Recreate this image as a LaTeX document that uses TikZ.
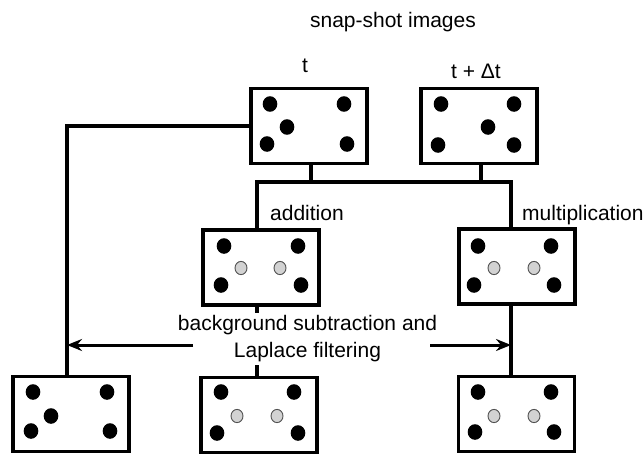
\documentclass[tikz,border=0pt]{standalone}
\usepackage{fontspec}
\setmainfont{Liberation Sans}
\usetikzlibrary{arrows.meta}
\definecolor{dotgray}{HTML}{D2D2D2}
\definecolor{rimgray}{HTML}{505050}
\tikzset{
  frame/.style={draw=black,line width=3.2pt,fill=white,minimum width=116pt,minimum height=75pt,inner sep=0pt},
  conn/.style={line width=3.2pt,line cap=rect},
  arr/.style={line width=3pt,-{Stealth[length=15pt,width=12pt,inset=5pt]}},
  lbl/.style={font=\fontsize{21}{27}\selectfont,inner sep=0pt},
  bdot/.style={fill=black},
  gdot/.style={fill=dotgray,draw=rimgray,line width=0.9pt}
}
\newcommand{\bd}[2]{\fill[bdot] (#1,#2) ellipse [x radius=7.3pt,y radius=7.8pt];}
\newcommand{\gd}[2]{\filldraw[gdot] (#1,#2) ellipse [x radius=6pt,y radius=6.6pt];}
\begin{document}
\begin{tikzpicture}[x=1pt,y=-1pt]
\useasboundingbox (0,0) rectangle (643,453);
% boxes
\node[frame] (T)  at (309,126) {};
\node[frame] (TD) at (479,126) {};
\node[frame] (A)  at (261,267.5) {};
\node[frame] (M)  at (517,266.5) {};
\node[frame] (BL) at (71,414) {};
\node[frame] (BM) at (259,415) {};
\node[frame] (BR) at (516.5,414) {};
% texts
\node[lbl,anchor=base] (snap) at (393,27) {snap-shot images};
\node[lbl,anchor=base] (tt) at (305,72) {t};
\node[lbl,anchor=base] (ttd) at (476,78) {t + Δt};
\node[lbl,anchor=base west] (add) at (270,220) {addition};
\node[lbl,anchor=base west] (mul) at (522,220) {multiplication};
\node[lbl,align=center,inner sep=4pt] (proc) at (307.5,339) {background subtraction and\\Laplace filtering};
% junction coordinates
\coordinate (tl) at (311,182);
\coordinate (tr) at (481,182);
\coordinate (j1) at (257,182);
\coordinate (j2) at (511,182);
\coordinate (jl) at (67,345);
\coordinate (al) at (193,345);
\coordinate (ar) at (430,345);
% connectors
\draw[conn] (tl |- T.south) -- (tl);
\draw[conn] (tr |- TD.south) -- (tr);
\draw[conn] (A.north -| j1) |- (j2) -- (M.north -| j2);
\draw[conn] (M.south -| j2) -- (BR.north -| j2);
\draw[conn] (A.south -| j1) -- (proc.north -| j1);
\draw[conn] (proc.south -| j1) -- (BM.north -| j1);
\draw[conn] (T.west) -| (BL.north -| jl);
\draw[arr] (al) -- (jl);
\draw[arr] (ar) -- (jl -| j2);
% dots: t
\bd{270}{104}\bd{344}{104}\bd{287}{127}\bd{267}{144}\bd{347}{144}
% dots: t+dt
\bd{441}{104}\bd{514}{104}\bd{488}{127}\bd{438}{145}\bd{514}{145}
% dots: addition
\bd{224}{246}\bd{298}{246}\gd{241}{268}\gd{280}{268}\bd{221}{285}\bd{301}{285}
% dots: multiplication
\bd{478}{246}\bd{551}{246}\gd{494}{268}\gd{534}{268}\bd{474}{285}\bd{554}{285}
% dots: bottom left
\bd{33}{392}\bd{107}{392}\bd{51}{416}\bd{31}{431}\bd{110}{431}
% dots: bottom middle
\bd{221}{392}\bd{294}{392}\gd{237}{416}\gd{277}{416}\bd{217}{433}\bd{298}{433}
% dots: bottom right
\bd{478}{392}\bd{551}{392}\gd{494}{416}\gd{534}{416}\bd{475}{432}\bd{554}{432}
\end{tikzpicture}
\end{document}
